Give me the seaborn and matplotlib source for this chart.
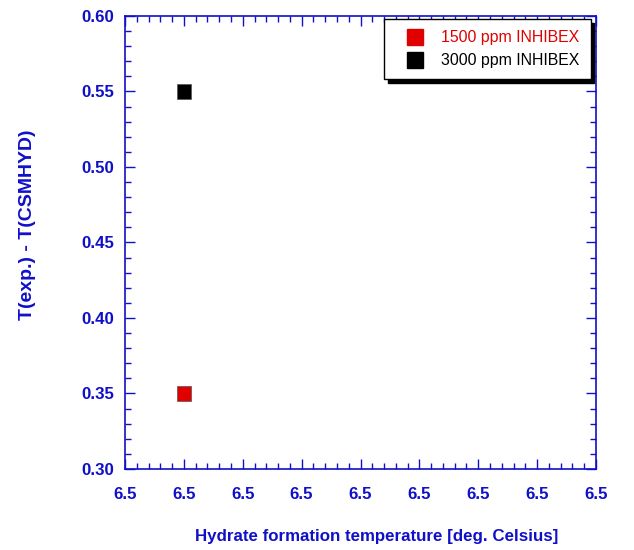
import matplotlib
matplotlib.use("Agg")
import matplotlib.pyplot as plt
import seaborn as sns
import pandas as pd
from matplotlib.ticker import MultipleLocator, FormatStrFormatter, AutoMinorLocator
from matplotlib.lines import Line2D

series = ["1500 ppm INHIBEX", "3000 ppm INHIBEX"]
temps = [6.5, 6.5]
deltas = [0.35, 0.55]
colors = ["#e00000", "#000000"]

sns.set_style("white")
plt.rcParams["font.family"] = ["Liberation Sans", "DejaVu Sans"]

blue = "#1010c8"
df = pd.DataFrame({"series": series, "temp": temps, "delta": deltas})

fig = plt.figure(figsize=(6.34, 5.5), dpi=100)
ax = fig.add_axes([125/634, 1-469/550, (596-125)/634, (469-16)/550])
sns.scatterplot(data=df, x="temp", y="delta", hue="series", palette=colors,
                marker="s", s=105, edgecolor="#555555", linewidth=0.5,
                legend=False, ax=ax, zorder=3)

ax.set_xlim(6.4975, 6.5175)
ax.set_ylim(0.30, 0.60)
ax.xaxis.set_major_locator(MultipleLocator(0.0025))
ax.xaxis.set_major_formatter(FormatStrFormatter("%.1f"))
ax.xaxis.set_minor_locator(AutoMinorLocator(5))
ax.yaxis.set_major_locator(MultipleLocator(0.05))
ax.yaxis.set_major_formatter(FormatStrFormatter("%.2f"))
ax.yaxis.set_minor_locator(AutoMinorLocator(5))

for sp in ax.spines.values():
    sp.set_color(blue)
    sp.set_linewidth(1.2)
ax.tick_params(which="both", direction="in", top=True, right=True, bottom=True, left=True,
               color=blue, width=1.0)
ax.tick_params(which="major", length=7)
ax.tick_params(which="minor", length=4.3)
ax.tick_params(axis="x", which="major", pad=13, labelsize=12.2, labelcolor=blue)
ax.tick_params(axis="y", which="major", pad=8, labelsize=12.2, labelcolor=blue)
for lab in ax.get_xticklabels() + ax.get_yticklabels():
    lab.set_fontweight("bold")

ax.set_xlabel("Hydrate formation temperature [deg. Celsius]", color=blue,
              fontsize=12.2, fontweight="bold")
ax.xaxis.set_label_coords(0.535, -0.133)
ax.set_ylabel("T(exp.) - T(CSMHYD)", color=blue, fontsize=14,
              fontweight="bold")
ax.yaxis.set_label_coords(-0.19, 0.54)

handles = [Line2D([], [], marker="s", linestyle="none", markersize=11,
                  markerfacecolor=c, markeredgecolor=c) for c in colors]
leg = ax.legend(handles, series, loc="upper right", bbox_to_anchor=(0.996, 1.0),
                fontsize=11.4, frameon=True, fancybox=False,
                shadow={"color": "black", "alpha": 1.0, "ox": 2.5, "oy": -2.5},
                handletextpad=0.5, borderpad=0.7, labelspacing=0.5,
                handlelength=2.4, borderaxespad=0.2)
leg.get_frame().set_edgecolor("black")
leg.get_frame().set_linewidth(1.0)
for t, c in zip(leg.get_texts(), colors):
    t.set_color(c)

fig.savefig("out.png", dpi=100)
